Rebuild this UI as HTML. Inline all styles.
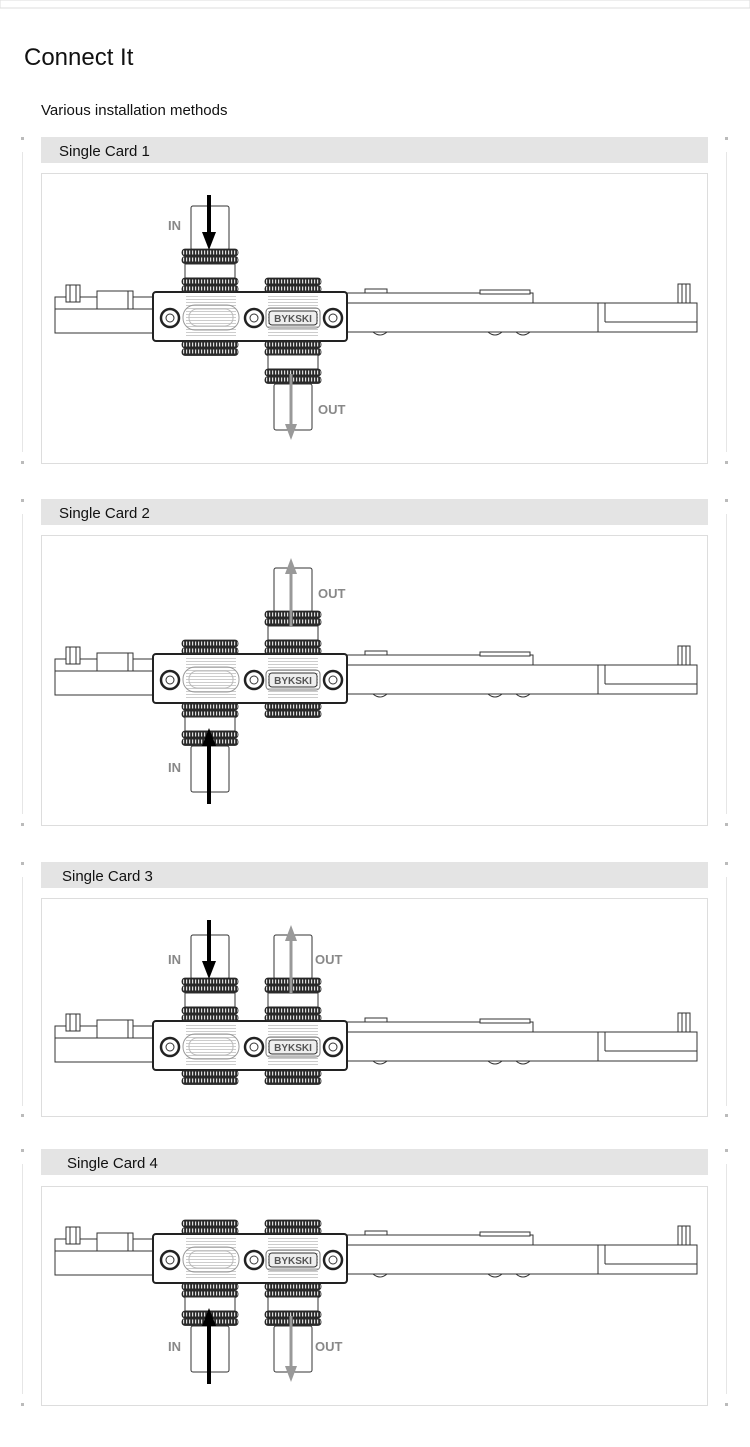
<!DOCTYPE html>
<html><head><meta charset="utf-8"><style>
body{margin:0;background:#fff;font-family:"Liberation Sans",sans-serif;}
</style></head><body>
<svg width="750" height="1447" viewBox="0 0 750 1447" xmlns="http://www.w3.org/2000/svg" style="display:block">
<defs>
<pattern id="kn" width="3" height="7" patternUnits="userSpaceOnUse">
<rect width="3" height="7" fill="#2a2a2a"/><rect x="1" y="1.5" width="1.2" height="4" fill="#ddd"/>
</pattern>
<pattern id="th" width="4" height="3" patternUnits="userSpaceOnUse">
<rect width="4" height="3" fill="#fff"/><rect y="1" width="4" height="1" fill="#ccc"/>
</pattern>
<g id="ring">
<rect x="0" y="0" width="56" height="7" rx="3" fill="url(#kn)" stroke="#222" stroke-width="0.8"/>
<rect x="0" y="7.5" width="56" height="7" rx="3" fill="url(#kn)" stroke="#222" stroke-width="0.8"/>
</g>
<g id="board" fill="none" stroke="#333" stroke-width="1">
<rect x="55" y="5" width="98" height="36" fill="#fff"/>
<line x1="55" y1="17" x2="153" y2="17"/>
<rect x="66" y="-7" width="14" height="17" fill="#fff"/>
<line x1="70" y1="-7" x2="70" y2="10"/><line x1="76" y1="-7" x2="76" y2="10"/>
<rect x="97" y="-1" width="36" height="18" fill="#fff"/>
<line x1="128" y1="-1" x2="128" y2="17"/>
<rect x="347" y="1" width="186" height="10" fill="#fff"/>
<rect x="365" y="-3" width="22" height="4" fill="#fff"/>
<rect x="480" y="-2" width="50" height="4" fill="#fff"/>
<rect x="347" y="11" width="350" height="29" fill="#fff"/>
<line x1="598" y1="11" x2="598" y2="40"/><line x1="605" y1="11" x2="605" y2="30"/>
<line x1="605" y1="30" x2="697" y2="30"/>
<rect x="678" y="-8" width="12" height="19" fill="#fff"/>
<line x1="682" y1="-8" x2="682" y2="11"/><line x1="686" y1="-8" x2="686" y2="11"/>
<path d="M373 40 q7 6 14 0 M488 40 q7 6 14 0 M516 40 q7 6 14 0"/>
<rect x="153" y="0" width="194" height="49" rx="3" fill="#fff" stroke="#222" stroke-width="2"/>
<rect x="186" y="3" width="50" height="43" fill="url(#th)" stroke="none"/>
<rect x="268" y="3" width="50" height="43" fill="url(#th)" stroke="none"/>
<rect x="183" y="13" width="56" height="25" rx="12" stroke="#999"/>
<rect x="189" y="17" width="44" height="17" rx="8" stroke="#bbb"/>
<rect x="266" y="16" width="54" height="20" rx="4" stroke="#777"/>
<rect x="269" y="19" width="48" height="14" rx="3" fill="#eee" stroke="#333"/>
<text x="293" y="30" font-size="10" font-weight="bold" text-anchor="middle" fill="#555" stroke="none" font-family="Liberation Sans">BYKSKI</text>
<circle cx="170" cy="26" r="9" fill="#fff" stroke="#222" stroke-width="2.5"/><circle cx="170" cy="26" r="4"/>
<circle cx="254" cy="26" r="9" fill="#fff" stroke="#222" stroke-width="2.5"/><circle cx="254" cy="26" r="4"/>
<circle cx="333" cy="26" r="9" fill="#fff" stroke="#222" stroke-width="2.5"/><circle cx="333" cy="26" r="4"/>
</g>
<g id="ltop" fill="#fff" stroke="#333">
<rect x="9" y="-86" width="38" height="44" rx="2"/>
<use href="#ring" y="-43"/>
<rect x="3" y="-28" width="50" height="14"/>
<use href="#ring" y="-14"/>
</g>
<g id="stop"><use href="#ring" y="-14"/></g>
<g id="sbot"><use href="#ring" y="49"/></g>
<g id="lbot" fill="#fff" stroke="#333">
<use href="#ring" y="49"/>
<rect x="3" y="63" width="50" height="14"/>
<use href="#ring" y="77"/>
<rect x="9" y="92" width="38" height="46" rx="2"/>
</g>
<g id="frame" fill="none">
<rect x="41" y="-155" width="667" height="26" fill="#e4e4e4"/>
<rect x="41.5" y="-118.5" width="666" height="290" stroke="#ddd"/>
<rect x="21" y="-155" width="3" height="3" fill="#bbb"/><rect x="725" y="-155" width="3" height="3" fill="#bbb"/>
<rect x="21" y="169" width="3" height="3" fill="#bbb"/><rect x="725" y="169" width="3" height="3" fill="#bbb"/>
<line x1="22.5" y1="-140" x2="22.5" y2="160" stroke="#e6e6e6"/>
<line x1="726.5" y1="-140" x2="726.5" y2="160" stroke="#e6e6e6"/>
</g>
</defs>
<rect x="0" y="0" width="750" height="8" fill="#fff" stroke="#ddd"/>
<text x="24" y="65" font-size="24" fill="#111">Connect It</text>
<text x="41" y="115" font-size="15" fill="#111">Various installation methods</text>
<g font-weight="bold" font-size="13">
<!-- Card 1 -->
<g transform="translate(0,292)">
<use href="#frame"/>
<text x="59" y="-136" font-size="15" font-weight="normal" fill="#111">Single Card 1</text>
<use href="#board"/>
<use href="#ltop" x="182"/><use href="#sbot" x="182"/>
<use href="#stop" x="265"/><use href="#lbot" x="265"/>
<line x1="209" y1="-97" x2="209" y2="-58" stroke="#000" stroke-width="4"/>
<polygon points="202,-60 216,-60 209,-42" fill="#000"/>
<line x1="291" y1="82" x2="291" y2="134" stroke="#999" stroke-width="3"/>
<polygon points="285,132 297,132 291,148" fill="#999"/>
<text x="168" y="-62" fill="#888">IN</text>
<text x="318" y="122" fill="#888">OUT</text>
</g>
<!-- Card 2 -->
<g transform="translate(0,654)">
<use href="#frame"/>
<text x="59" y="-136" font-size="15" font-weight="normal" fill="#111">Single Card 2</text>
<use href="#board"/>
<use href="#stop" x="182"/><use href="#lbot" x="182"/>
<use href="#ltop" x="265"/><use href="#sbot" x="265"/>
<line x1="209" y1="150" x2="209" y2="90" stroke="#000" stroke-width="4"/>
<polygon points="202,92 216,92 209,74" fill="#000"/>
<line x1="291" y1="-28" x2="291" y2="-82" stroke="#999" stroke-width="3"/>
<polygon points="285,-80 297,-80 291,-96" fill="#999"/>
<text x="318" y="-56" fill="#888">OUT</text>
<text x="168" y="118" fill="#888">IN</text>
</g>
<!-- Card 3 -->
<g transform="translate(0,1021)">
<rect x="41.5" y="-122.5" width="666" height="218" fill="none" stroke="#ddd"/>
<rect x="41" y="-159" width="667" height="26" fill="#e4e4e4"/>
<rect x="21" y="-159" width="3" height="3" fill="#bbb"/><rect x="725" y="-159" width="3" height="3" fill="#bbb"/>
<rect x="21" y="93" width="3" height="3" fill="#bbb"/><rect x="725" y="93" width="3" height="3" fill="#bbb"/>
<line x1="22.5" y1="-144" x2="22.5" y2="85" stroke="#e6e6e6"/><line x1="726.5" y1="-144" x2="726.5" y2="85" stroke="#e6e6e6"/>
<text x="62" y="-140" font-size="15" font-weight="normal" fill="#111">Single Card 3</text>
<use href="#board"/>
<use href="#ltop" x="182"/><use href="#sbot" x="182"/>
<use href="#ltop" x="265"/><use href="#sbot" x="265"/>
<line x1="209" y1="-101" x2="209" y2="-58" stroke="#000" stroke-width="4"/>
<polygon points="202,-60 216,-60 209,-42" fill="#000"/>
<line x1="291" y1="-28" x2="291" y2="-82" stroke="#999" stroke-width="3"/>
<polygon points="285,-80 297,-80 291,-96" fill="#999"/>
<text x="168" y="-57" fill="#888">IN</text>
<text x="315" y="-57" fill="#888">OUT</text>
</g>
<!-- Card 4 -->
<g transform="translate(0,1234)">
<rect x="41.5" y="-47.5" width="666" height="219" fill="none" stroke="#ddd"/>
<rect x="41" y="-85" width="667" height="26" fill="#e4e4e4"/>
<rect x="21" y="-85" width="3" height="3" fill="#bbb"/><rect x="725" y="-85" width="3" height="3" fill="#bbb"/>
<rect x="21" y="169" width="3" height="3" fill="#bbb"/><rect x="725" y="169" width="3" height="3" fill="#bbb"/>
<line x1="22.5" y1="-70" x2="22.5" y2="160" stroke="#e6e6e6"/><line x1="726.5" y1="-70" x2="726.5" y2="160" stroke="#e6e6e6"/>
<text x="67" y="-66" font-size="15" font-weight="normal" fill="#111">Single Card 4</text>
<use href="#board"/>
<use href="#stop" x="182"/><use href="#lbot" x="182"/>
<use href="#stop" x="265"/><use href="#lbot" x="265"/>
<line x1="209" y1="150" x2="209" y2="90" stroke="#000" stroke-width="4"/>
<polygon points="202,92 216,92 209,74" fill="#000"/>
<line x1="291" y1="82" x2="291" y2="134" stroke="#999" stroke-width="3"/>
<polygon points="285,132 297,132 291,148" fill="#999"/>
<text x="168" y="117" fill="#888">IN</text>
<text x="315" y="117" fill="#888">OUT</text>
</g>
</g>
</svg>
</body></html>
